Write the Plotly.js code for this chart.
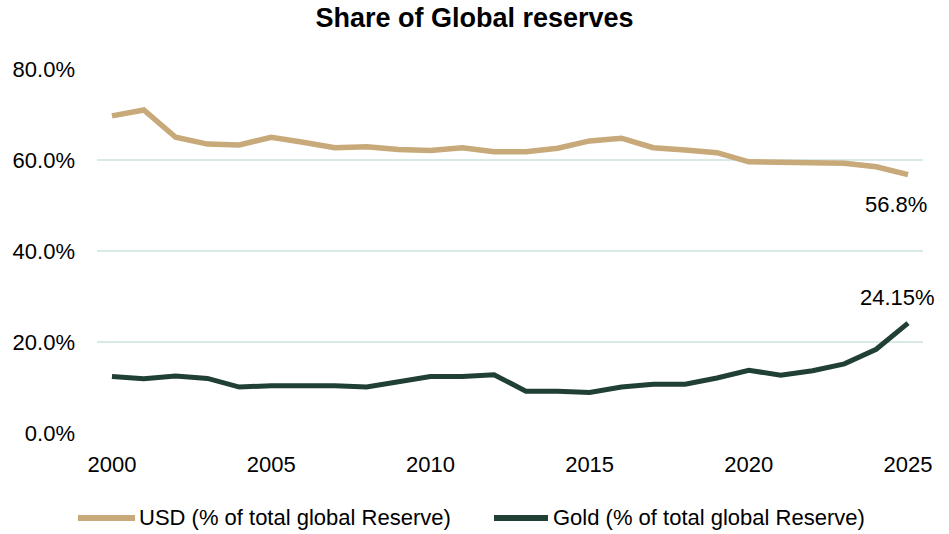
<!DOCTYPE html>
<html>
<head>
<meta charset="utf-8">
<script src="https://cdn.plot.ly/plotly-3.0.1.min.js"></script>
<style>html,body{margin:0;padding:0;background:#fff;}#chart{width:949px;height:534px;}</style>
</head>
<body>
<div id="chart"></div>
<script>
const years = [2000,2001,2002,2003,2004,2005,2006,2007,2008,2009,2010,2011,2012,2013,2014,2015,2016,2017,2018,2019,2020,2021,2022,2023,2024,2025];
const usdShare = [69.7,71.0,65.0,63.5,63.3,65.0,63.9,62.7,62.9,62.3,62.1,62.7,61.8,61.8,62.6,64.2,64.8,62.7,62.2,61.6,59.6,59.6,59.3,59.3,58.5,56.8];
const goldShare = [12.4,11.9,12.5,12.0,10.1,10.4,10.4,10.4,10.1,11.2,12.4,12.4,12.8,9.2,9.2,8.9,10.1,10.7,10.7,12.1,13.8,12.7,13.7,15.2,18.4,24.15];
const seriesNames = ["USD (% of total global Reserve)", "Gold (% of total global Reserve)"];
const seriesColors = ['#C8A97A', '#203F35'];
const yTicks = [0,20,40,60,80];
const yTickLabels = ["0.0%","20.0%","40.0%","60.0%","80.0%"];
const xTicks = [2000,2005,2010,2015,2020,2025];
const endLabels = ["56.8%","24.15%"];

const font = "'Liberation Sans', Arial, sans-serif";
const traces = [
  {x: years, y: usdShare, name: seriesNames[0], type: 'scatter', mode: 'lines',
   line: {color: seriesColors[0], width: 5.5}, hoverinfo: 'skip'},
  {x: years, y: goldShare, name: seriesNames[1], type: 'scatter', mode: 'lines',
   line: {color: seriesColors[1], width: 5}, hoverinfo: 'skip'}
];
const last = years.length - 1;

// Legend drawn as paper-positioned keys + labels (to match the reference's long key lines)
const legendY = -0.2335;
const legendKeys = [[-0.023, 0.046], [0.4806, 0.546]];
const legendTextX = [0.0484, 0.5496];
const legendShapes = legendKeys.map((k, i) => ({
  type: 'line', xref: 'paper', yref: 'paper', x0: k[0], x1: k[1], y0: legendY, y1: legendY,
  line: {color: seriesColors[i], width: 6}
}));
const legendLabels = seriesNames.map((n, i) => ({
  xref: 'paper', yref: 'paper', x: legendTextX[i], y: legendY, text: n, showarrow: false,
  xanchor: 'left', yanchor: 'middle', font: {size: 22}
}));

const layout = {
  width: 949, height: 534,
  margin: {l: 97, r: 26, t: 69, b: 101},
  paper_bgcolor: '#fff', plot_bgcolor: '#fff',
  font: {family: font, size: 22, color: '#000'},
  title: {text: '<b>Share of Global reserves</b>', font: {family: font, size: 27, color: '#000'},
          x: 0.5, xanchor: 'center', y: 0.985, yanchor: 'top'},
  xaxis: {range: [1999.53, 2025.47], tickvals: xTicks, ticks: '', showgrid: false, automargin: false,
          zeroline: false, showline: false, tickfont: {size: 22}, ticklabelstandoff: 16, fixedrange: true},
  yaxis: {range: [0, 80], tickvals: yTicks, ticktext: yTickLabels, ticks: '', showgrid: true, automargin: false,
          gridcolor: '#D9EAE6', gridwidth: 2, zeroline: false, showline: false,
          tickfont: {size: 22}, ticklabelstandoff: 21, fixedrange: true},
  showlegend: false,
  shapes: legendShapes,
  annotations: [
    {x: years[last], y: usdShare[last], text: endLabels[0], showarrow: false,
     xanchor: 'center', yanchor: 'top', xshift: -12, yshift: -15, font: {size: 22}},
    {x: years[last], y: goldShare[last], text: endLabels[1], showarrow: false,
     xanchor: 'center', yanchor: 'bottom', xshift: -11, yshift: 11, font: {size: 22}}
  ].concat(legendLabels)
};
Plotly.newPlot('chart', traces, layout, {displayModeBar: false, staticPlot: true});
</script>
</body>
</html>
